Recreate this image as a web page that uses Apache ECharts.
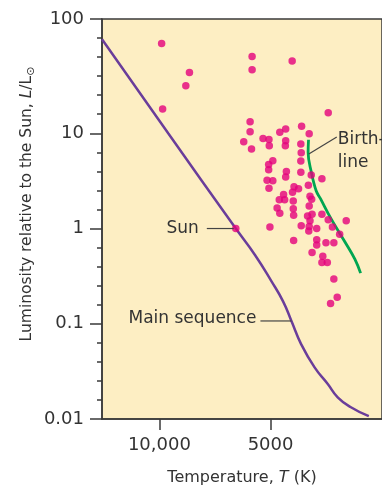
<!DOCTYPE html>
<html><head><meta charset="utf-8">
<script src="https://cdn.jsdelivr.net/npm/echarts@6/dist/echarts.min.js"></script>
<style>html,body{margin:0;padding:0;background:#fff}#c{width:382px;height:491px}</style>
</head><body><div id="c"></div>
<script>
// Stars (temperature K, luminosity L/Lsun)
const starT = [9860, 8290, 8480, 9800, 5610, 5610, 4370, 3490,
  5680, 5680, 5910, 5630, 5240, 5050, 5040, 4720, 4550, 4550, 4560, 4120, 3930, 4140, 4130, 4140, 4140,
  4930, 5060, 5060, 4530, 4550, 5110, 4930, 5050, 3880, 3630, 3950, 4320, 4200, 4360, 4610, 4735, 4580, 4340, 3910, 3870, 3930,
  4800, 4720, 4340, 4330, 3970, 3860, 3630, 3910, 3490, 3120, 4130, 3930, 3940, 3750, 3400, 3250, 5020,
  4330, 3750, 3750, 3540, 3370, 3860, 3610, 3630, 3510, 3370, 3300, 3440];
const starL = [61, 34, 26, 16.3, 47, 36, 43, 15.1,
  12.6, 10.3, 8.14, 6.84, 8.8, 8.6, 7.4, 10.2, 10.9, 8.35, 7.4, 11.5, 9.9, 7.7, 6.26, 5.13, 3.89,
  5.15, 4.69, 4.15, 3.97, 3.47, 3.22, 3.18, 2.65, 3.65, 3.33, 2.85, 2.75, 2.62, 2.41, 2.27, 2.0, 2.0, 1.94, 2.18, 2.03, 1.72,
  1.64, 1.45, 1.61, 1.38, 1.35, 1.41, 1.41, 1.21, 1.24, 1.21, 1.07, 1.05, 0.94, 1.0, 1.04, 0.87, 1.04,
  0.75, 0.76, 0.67, 0.71, 0.71, 0.56, 0.51, 0.44, 0.44, 0.295, 0.19, 0.163];
const sunT = [6210];
const sunL = [1.0];
// Main sequence curve
const mainT = [14300, 9465, 6210, 5510, 4970, 4625, 4390, 4130, 3800, 3500, 3290, 3030, 2710];
const mainL = [66.4, 10, 1.0, 0.528, 0.279, 0.172, 0.107, 0.0608, 0.0348, 0.0233, 0.0169, 0.0133, 0.0107];
// Birthline curve
const birthT = [3946, 3956, 3880, 3763, 3663, 3430, 3141, 2956, 2852];
const birthL = [8.55, 6.31, 3.94, 2.49, 2.06, 1.27, 0.717, 0.476, 0.340];
// Ticks
const yTickLum = [0.01, 0.1, 1, 10, 100];
const yTickLabels = ['0.01', '0.1', '1', '10', '100'];
const xTickTemps = [10000, 5000];
const xTickLabels = ['10,000', '5000'];
const xRangeT = [2496, 14300];
// Annotation anchors
const sunAnchor = [6210, 1.0];
const msAnchor = [4390, 0.107];
const birthAnchor = [3940, 6.06];

// Axis transforms (original figure's luminosity axis: 6 tick steps for the top decade, 5 for others)
function yPos(L) { const u = Math.log10(L); return u > 1 ? 15 + 6 * (u - 1) : 10 + 5 * u; }
function xPos(T) { return Math.log10(T); }

const FONT = 'DejaVu Sans';
const TXT = '#333333';
const AX = '#3a3a3a';
const yMajor = yTickLum.map(yPos);
const xMajor = xTickTemps.map(xPos);

const chart = echarts.init(document.getElementById('c'), null, {renderer: 'canvas'});
const option = {
  animation: false,
  backgroundColor: '#ffffff',
  grid: {left: 102, top: 19, bottom: 69, right: -3, show: true, backgroundColor: '#FDEEC3',
         borderColor: AX, borderWidth: 1.5},
  xAxis: [{
    type: 'value', inverse: true, min: xPos(xRangeT[0]), max: xPos(xRangeT[1]),
    splitLine: {show: false},
    axisLine: {show: true, lineStyle: {color: AX, width: 1.5}},
    axisTick: {show: true, customValues: xMajor, length: 11, lineStyle: {color: AX, width: 1.5}},
    axisLabel: {customValues: xMajor, margin: 17, color: TXT, fontFamily: FONT, fontSize: 18,
      formatter: v => { const i = xMajor.findIndex(m => Math.abs(m - v) < 1e-6); return i >= 0 ? xTickLabels[i] : ''; }},
    name: 'Temperature, {i|T} (K)', nameLocation: 'middle', nameGap: 51,
    nameTextStyle: {color: TXT, fontFamily: FONT, fontSize: 16,
      rich: {i: {fontStyle: 'italic', color: TXT, fontFamily: FONT, fontSize: 16}}}
  }],
  yAxis: [{
    type: 'value', min: 0, max: 21, interval: 1,
    splitLine: {show: false},
    axisLine: {show: true, lineStyle: {color: AX, width: 1.5}},
    axisTick: {show: true, length: 5, lineStyle: {color: AX, width: 1.5}},
    axisLabel: {customValues: yMajor, margin: 18, color: TXT, fontFamily: FONT, fontSize: 18,
      formatter: v => { const i = yMajor.findIndex(m => Math.abs(m - v) < 1e-6); return i >= 0 ? yTickLabels[i] : ''; }}
  }, {
    type: 'value', min: 0, max: 21, position: 'left',
    splitLine: {show: false},
    axisLine: {show: false},
    axisTick: {show: true, customValues: yMajor, length: 12, lineStyle: {color: AX, width: 1.5}},
    axisLabel: {show: false}
  }],
  series: [{
    type: 'line', name: 'Main sequence', smooth: 0.5, showSymbol: false, z: 2,
    lineStyle: {color: '#6A3D9A', width: 2.5},
    data: mainT.map((t, i) => [xPos(t), yPos(mainL[i])])
  }, {
    type: 'line', name: 'Birthline', smooth: 0.4, showSymbol: false, z: 2,
    lineStyle: {color: '#00A651', width: 2.8},
    data: birthT.map((t, i) => [xPos(t), yPos(birthL[i])])
  }, {
    type: 'scatter', name: 'Stars', symbolSize: 7.5, z: 3,
    itemStyle: {color: '#E4007C'},
    data: starT.map((t, i) => [xPos(t), yPos(starL[i])])
  }, {
    type: 'scatter', name: 'Sun', symbolSize: 7.5, z: 3,
    itemStyle: {color: '#E4007C'},
    data: sunT.map((t, i) => [xPos(t), yPos(sunL[i])])
  }]
};
chart.setOption(option);

function px(p) { return chart.convertToPixel({xAxisIndex: 0, yAxisIndex: 0}, [xPos(p[0]), yPos(p[1])]); }
const s = px(sunAnchor), m = px(msAnchor), b = px(birthAnchor);
const lab = {fill: TXT, fontFamily: FONT, fontSize: 17};
chart.setOption({graphic: [
  {type: 'line', shape: {x1: s[0] - 29, y1: s[1], x2: s[0] - 2, y2: s[1]}, style: {stroke: '#444', lineWidth: 1.2}, z: 10},
  {type: 'text', x: s[0] - 37, y: s[1], style: Object.assign({text: 'Sun', align: 'right', verticalAlign: 'middle'}, lab), z: 10},
  {type: 'line', shape: {x1: m[0] - 31, y1: m[1], x2: m[0], y2: m[1]}, style: {stroke: '#444', lineWidth: 1.2}, z: 10},
  {type: 'text', x: m[0] - 35, y: m[1] - 2, style: Object.assign({text: 'Main sequence', align: 'right', verticalAlign: 'middle'}, lab), z: 10},
  {type: 'line', shape: {x1: b[0], y1: b[1], x2: b[0] + 28, y2: b[1] - 17}, style: {stroke: '#444', lineWidth: 1.2}, z: 10},
  {type: 'text', x: b[0] + 29, y: b[1] - 14, style: Object.assign({text: 'Birth-', align: 'left', verticalAlign: 'middle'}, lab), z: 10},
  {type: 'text', x: b[0] + 29, y: b[1] + 9, style: Object.assign({text: 'line', align: 'left', verticalAlign: 'middle'}, lab), z: 10},
  {type: 'text', x: 27, y: 204, rotation: Math.PI / 2,
   style: {text: '{a|Luminosity relative to the Sun, }{i|L}{a|/L}{s|⊙}', align: 'center', verticalAlign: 'middle',
     rich: {a: {fill: TXT, fontFamily: FONT, fontSize: 15.5, lineHeight: 20, verticalAlign: 'middle'},
            i: {fill: TXT, fontFamily: FONT, fontSize: 15.5, fontStyle: 'italic', lineHeight: 20, verticalAlign: 'middle'},
            s: {fill: TXT, fontFamily: FONT, fontSize: 11, lineHeight: 11, verticalAlign: 'bottom'}}}, z: 10}
]});
</script>
</body></html>
